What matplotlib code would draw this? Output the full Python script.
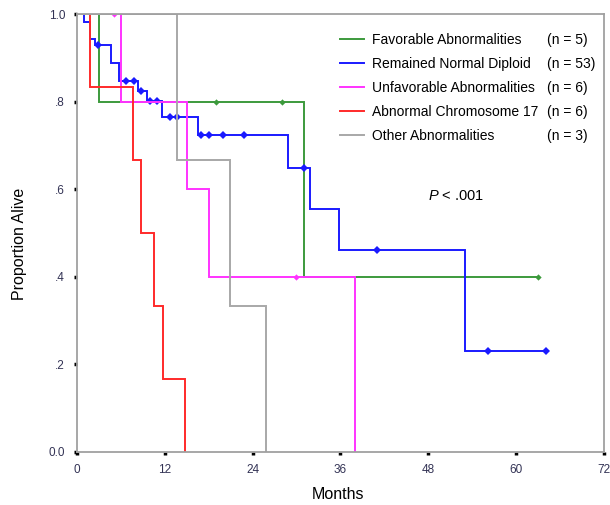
import numpy as np
import matplotlib
matplotlib.use("Agg")
import matplotlib.pyplot as plt

plt.rcParams['font.family'] = ['Liberation Sans', 'DejaVu Sans']
plt.rcParams['mathtext.fontset'] = 'custom'
plt.rcParams['mathtext.it'] = 'Liberation Sans:italic'
plt.rcParams['mathtext.rm'] = 'Liberation Sans'

# Kaplan-Meier step curves: event times (months) and survival after each step
groups = ["Favorable Abnormalities", "Remained Normal Diploid",
          "Unfavorable Abnormalities", "Abnormal Chromosome 17",
          "Other Abnormalities"]
counts = ["(n = 5)", "(n = 53)", "(n = 6)", "(n = 6)", "(n = 3)"]
colors = ["#3c9a3c", "#1a1aff", "#ff33ff", "#ff2a2a", "#a8a8a8"]

fav_t = [0, 3.0, 31.0]
fav_s = [1.0, 0.80, 0.40]
fav_cens = [19.0, 28.0, 63.0]

nd_t = [0, 1.0, 1.8, 2.5, 4.7, 5.8, 8.4, 9.6, 11.6, 16.6, 28.9, 31.8, 35.8, 53.0]
nd_s = [1.0, 0.981, 0.943, 0.929, 0.889, 0.847, 0.824, 0.802, 0.764, 0.723,
        0.649, 0.555, 0.462, 0.231]
nd_cens = [2.9, 6.7, 7.8, 8.8, 10.0, 11.0, 12.7, 13.7, 16.9, 18.0, 19.9, 22.9,
           31.0, 41.0, 56.1, 64.1]

unf_t = [0, 6.0, 15.0, 18.0, 38.0]
unf_s = [1.0, 0.80, 0.60, 0.40, 0.0]
unf_cens = [5.1, 30.0]

c17_t = [0, 1.8, 7.7, 8.7, 10.6, 11.7, 14.8]
c17_s = [1.0, 0.833, 0.667, 0.50, 0.333, 0.167, 0.0]
c17_cens = []

oth_t = [0, 13.7, 20.9, 25.9]
oth_s = [1.0, 0.667, 0.333, 0.0]
oth_cens = []

x_ticks = [0, 12, 24, 36, 48, 60, 72]
x_labels = ["0", "12", "24", "36", "48", "60", "72"]
y_ticks = [0.0, 0.2, 0.4, 0.6, 0.8, 1.0]
y_labels = ["0.0", ".2", ".4", ".6", ".8", "1.0"]

series = [(fav_t, fav_s, fav_cens), (nd_t, nd_s, nd_cens),
          (unf_t, unf_s, unf_cens), (c17_t, c17_s, c17_cens),
          (oth_t, oth_s, oth_cens)]
msizes = [3.2, 4.2, 3.2, 3.2, 3.2]

fig = plt.figure(figsize=(6.1, 5.05), dpi=100)
ax = fig.add_axes([0.126, 0.105, 0.864, 0.867])

def surv_at(t_arr, s_arr, t):
    idx = np.searchsorted(np.asarray(t_arr), t, side='right') - 1
    return s_arr[idx]

handles = []
for (t, s, cens), col, lab, ms in zip(series, colors, groups, msizes):
    tt = list(t)
    ss = list(s)
    end = max(cens) if cens else t[-1]
    if end > tt[-1]:
        tt.append(end)
        ss.append(ss[-1])
    h, = ax.step(tt, ss, where='post', color=col, lw=1.4, label=lab,
                 solid_joinstyle='miter')
    handles.append(h)
    if cens:
        cy = [surv_at(t, s, c) for c in cens]
        ax.plot(cens, cy, linestyle='none', marker='D', markersize=ms,
                color=col, markeredgewidth=0)

ax.set_xlim(0, 72)
ax.set_ylim(0, 1.0)
ax.set_xticks(x_ticks)
ax.set_xticklabels(x_labels)
ax.set_yticks(y_ticks)
ax.set_yticklabels(y_labels)
ax.tick_params(direction='out', length=2.5, width=2.5, color='black',
               labelsize=8.5, labelcolor='#333355', pad=6)
for sp in ax.spines.values():
    sp.set_color('#a0a0a0')
    sp.set_linewidth(1.3)

ax.set_xlabel("Months", fontsize=11.5)
ax.set_ylabel("Proportion Alive", fontsize=11.5)
ax.xaxis.set_label_coords(0.495, -0.079)
ax.yaxis.set_label_coords(-0.094, 0.475)

leg = ax.legend(handles=handles, loc='upper left',
                bbox_to_anchor=(0.476, 0.985), frameon=False, fontsize=10,
                handlelength=1.73, handletextpad=0.58, labelspacing=0.72)

# group sizes sit on the same rows as the legend entries
fig.canvas.draw()
renderer = fig.canvas.get_renderer()
inv = ax.transAxes.inverted()
for txt, lt in zip(counts, leg.get_texts()):
    bb = lt.get_window_extent(renderer)
    yc = inv.transform((0, 0.5 * (bb.y0 + bb.y1)))[1]
    ax.text(0.892, yc, txt, transform=ax.transAxes, fontsize=10,
            ha='left', va='center')

ax.text(51.8, 0.584, r"$\it{P}$ < .001", fontsize=10.5, ha='center', va='center')

fig.savefig("out.png", dpi=100)
